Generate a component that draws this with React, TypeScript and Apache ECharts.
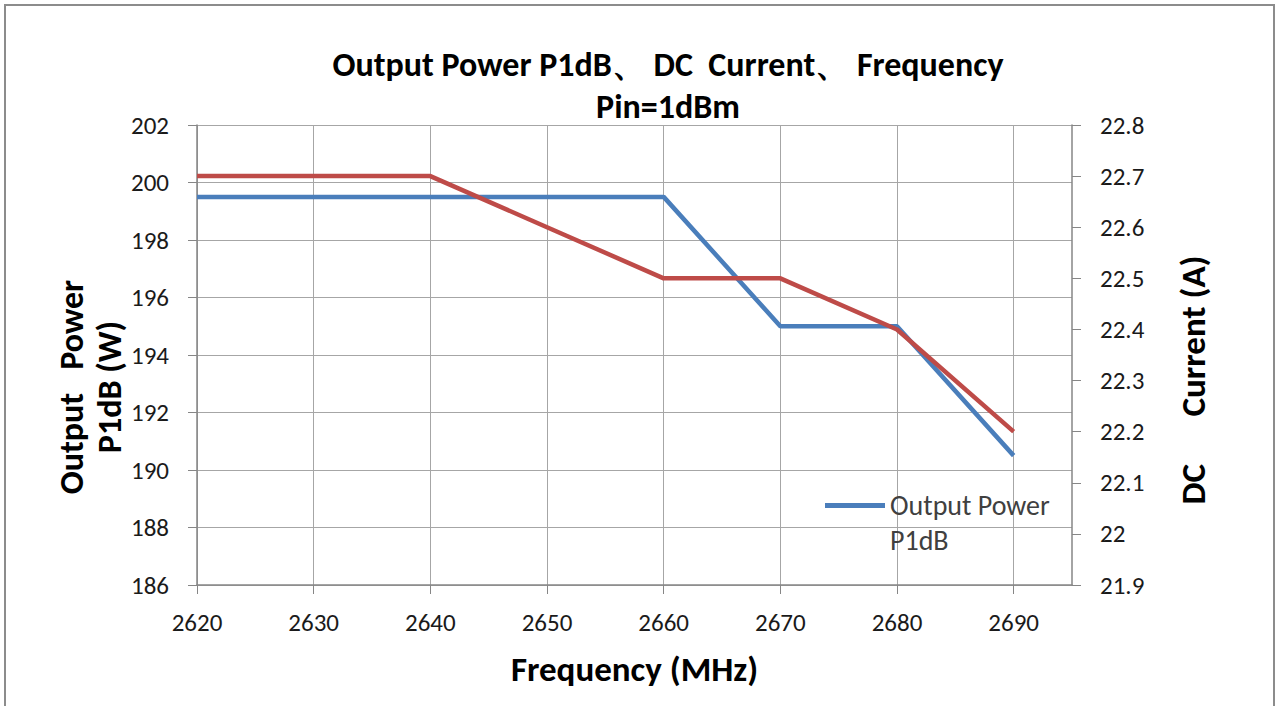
import React, { useEffect, useRef } from "react";
import * as echarts from "echarts";

const frequencies = [2620, 2630, 2640, 2650, 2660, 2670, 2680, 2690];
const outputPowerW = [199.5, 199.5, 199.5, 199.5, 199.5, 195, 195, 190.5];
const dcCurrentA = [22.7, 22.7, 22.7, 22.6, 22.5, 22.5, 22.4, 22.2];
const xTickValues = [2620, 2630, 2640, 2650, 2660, 2670, 2680, 2690];

const seriesNames = ["Output Power P1dB", "DC Current"];
const titleLine1 = "Output Power P1dB、 DC  Current、 Frequency";
const titleLine2 = "Pin=1dBm";
const leftAxisTitle = "Output   Power\nP1dB (W)";
const rightAxisTitle = "DC      Current (A)";
const xAxisTitle = "Frequency (MHz)";

const FONT = "Carlito, Calibri, Lato, sans-serif";
const AXIS_COLOR = "#868686";
const GRID_COLOR = "#a6a6a6";

export default function App() {
  const ref = useRef<HTMLDivElement>(null);

  useEffect(() => {
    if (!ref.current) return;
    const chart = echarts.init(ref.current, null, { renderer: "svg" });
    const powerData = frequencies.map((f, i) => [f, outputPowerW[i]]);
    const currentData = frequencies.map((f, i) => [f, dcCurrentA[i]]);

    chart.setOption({
      animation: false,
      backgroundColor: "#ffffff",
      title: {
        text: titleLine1 + "\n" + titleLine2,
        left: 663,
        top: 38,
        textAlign: "center",
        textStyle: {
          fontFamily: FONT,
          fontWeight: "bold",
          fontSize: 34,
          lineHeight: 42,
          color: "#000000",
        },
      },
      legend: {
        data: [seriesNames[0]],
        left: 825,
        top: 453,
        orient: "vertical",
        icon: "rect",
        itemWidth: 60,
        itemHeight: 5,
        padding: 0,
        formatter: () => " \nOutput Power\nP1dB",
        textStyle: {
          fontFamily: FONT,
          fontSize: 28,
          color: "#404040",
          lineHeight: 35,
        },
      },
      grid: { left: 197, right: 205, top: 125, bottom: 121 },
      xAxis: {
        type: "value",
        min: 2620,
        max: 2695,
        interval: 5,
        name: xAxisTitle,
        nameLocation: "middle",
        nameGap: 66,
        nameTextStyle: {
          fontFamily: FONT,
          fontWeight: "bold",
          fontSize: 35,
          color: "#000000",
        },
        axisLine: { show: true, lineStyle: { color: AXIS_COLOR, width: 1.5 } },
        axisTick: {
          show: true,
          customValues: xTickValues,
          length: 9,
          lineStyle: { color: AXIS_COLOR },
        },
        axisLabel: {
          customValues: xTickValues,
          margin: 25,
          fontFamily: FONT,
          fontSize: 25,
          color: "#1a1a1a",
          formatter: (v: number) => (v % 10 === 0 ? String(v) : ""),
        },
        splitLine: { show: true, lineStyle: { color: GRID_COLOR, width: 1 } },
      },
      yAxis: [
        {
          type: "value",
          position: "left",
          min: 186,
          max: 202,
          interval: 2,
          axisLine: { show: true, lineStyle: { color: AXIS_COLOR, width: 1.5 } },
          axisTick: { show: true, length: 9, lineStyle: { color: AXIS_COLOR } },
          axisLabel: {
            margin: 28,
            fontFamily: FONT,
            fontSize: 25,
            color: "#1a1a1a",
          },
          splitLine: { show: true, lineStyle: { color: GRID_COLOR, width: 1 } },
        },
        {
          type: "value",
          position: "right",
          min: 21.9,
          max: 22.8,
          interval: 0.1,
          axisLine: { show: true, lineStyle: { color: AXIS_COLOR, width: 1.5 } },
          axisTick: { show: true, length: 9, lineStyle: { color: AXIS_COLOR } },
          axisLabel: {
            margin: 28,
            fontFamily: FONT,
            fontSize: 25,
            color: "#1a1a1a",
            formatter: (v: number) => String(Math.round(v * 10) / 10),
          },
          splitLine: { show: false },
        },
      ],
      series: [
        {
          name: seriesNames[0],
          type: "line",
          yAxisIndex: 0,
          data: powerData,
          showSymbol: false,
          symbol: "none",
          lineStyle: { color: "#4a7ebb", width: 4.5 },
          itemStyle: { color: "#4a7ebb" },
          z: 2,
        },
        {
          name: seriesNames[1],
          type: "line",
          yAxisIndex: 1,
          data: currentData,
          showSymbol: false,
          symbol: "none",
          lineStyle: { color: "#be4b48", width: 4.5 },
          itemStyle: { color: "#be4b48" },
          z: 3,
        },
      ],
      graphic: [
        {
          type: "rect",
          shape: { x: 5, y: 5, width: 1269, height: 710 },
          style: { fill: "none", stroke: "#8c8c8c", lineWidth: 2 },
          silent: true,
          z: 100,
        },
        {
          type: "text",
          x: 90,
          y: 387,
          rotation: Math.PI / 2,
          style: {
            text: leftAxisTitle,
            fontFamily: FONT,
            fontWeight: "bold",
            fontSize: 34,
            lineHeight: 38,
            align: "center",
            verticalAlign: "middle",
            fill: "#000000",
          },
        },
        {
          type: "text",
          x: 1193,
          y: 380,
          rotation: Math.PI / 2,
          style: {
            text: rightAxisTitle,
            fontFamily: FONT,
            fontWeight: "bold",
            fontSize: 35,
            align: "center",
            verticalAlign: "middle",
            fill: "#000000",
          },
        },
      ],
    });

    return () => chart.dispose();
  }, []);

  return (
    <div
      ref={ref}
      style={{ position: "fixed", left: 0, top: 0, width: 1277, height: 706 }}
    />
  );
}
